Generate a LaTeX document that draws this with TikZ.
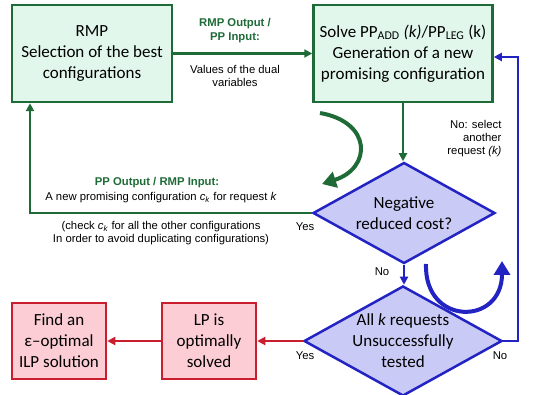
\documentclass[tikz,border=0pt]{standalone}
\usepackage{fontspec}
\setmainfont{Liberation Sans}
\newfontfamily\boxfont{Carlito}
\usetikzlibrary{arrows.meta, shapes.geometric}

\definecolor{gline}{HTML}{1E6B38}
\definecolor{gfill}{HTML}{E2F7EC}
\definecolor{bline}{HTML}{2323C4}
\definecolor{bfill}{HTML}{CACAF6}
\definecolor{rline}{HTML}{C81E2D}
\definecolor{rfill}{HTML}{FCCDD5}

\begin{document}
\begin{tikzpicture}[x=1pt, y=-1pt,
    box/.style={rectangle, draw, line width=2.5pt, align=center, inner sep=2pt,
        font=\boxfont\fontsize{17}{21}\selectfont},
    greenbox/.style={box, draw=gline, fill=gfill, minimum height=97pt},
    redbox/.style={box, draw=rline, fill=rfill, minimum width=94pt, minimum height=76pt},
    test/.style={diamond, aspect=1.8, draw=bline, fill=bfill, line width=2.5pt,
        inner sep=0pt, align=center, font=\boxfont\fontsize{17}{21}\selectfont},
    lab/.style={font=\fontsize{11.3}{13}\selectfont, align=center},
    glab/.style={lab, font=\fontsize{11.3}{14}\selectfont\bfseries, text=gline},
    tip/.style={-{Triangle[length=8pt,width=8pt]}},
    garrow/.style={tip, draw=gline, line width=2.5pt},
    barrow/.style={tip, draw=bline, line width=2.5pt},
    rarrow/.style={tip, draw=rline, line width=2.5pt},
    bigtip/.style={-{Triangle[length=14pt,width=16pt]}, line width=4pt}
]
    \useasboundingbox (0,0) rectangle (554,395);

    % boxes and tests
    \node[greenbox, minimum width=160pt] (rmp) at (92,53.5) {RMP\\Selection of the best\\configurations};
    \node[greenbox, minimum width=179pt] (pp) at (403,53.5)
        {Solve PP\textsubscript{ADD} \textit{(k)}/PP\textsubscript{LEG} (k)\\Generation of a new\\promising configuration};
    \node[test, minimum width=182pt, minimum height=101pt] (neg) at (404,213) {Negative\\reduced cost?};
    \node[test, minimum width=180pt, minimum height=102pt] (all) at (403,341)
        {All \textit{k} requests\\Unsuccessfully\\tested};
    \node[redbox] (lp) at (209,341) {LP is\\optimally\\solved};
    \node[redbox] (find) at (59,341) {Find an\\ε–optimal\\ILP solution};

    \coordinate (ret) at (30,213);
    \coordinate (back) at (518,57);

    % connectors
    \draw[garrow] (rmp) -- (pp);
    \draw[garrow] (pp.south) -- (pp.south |- neg.north);
    \draw[garrow] (neg.west) -- (ret) -- (ret |- rmp.south);
    \draw[barrow] (neg.south) -- (neg.south |- all.north);
    \draw[barrow] (all.east) -| (back) -- (pp.east |- back);
    \draw[rarrow] (all.west) -- (lp.east);
    \draw[rarrow] (lp.west) -- (find.east);

    % curved hints
    \coordinate (gfrom) at (320,113);
    \coordinate (gto) at (322,184);
    \draw[bigtip, draw=gline] (gfrom) .. controls (372,122) and (372,168) .. (gto);
    \coordinate (bfrom) at (426,264);
    \coordinate (bto) at (502,261);
    \draw[bigtip, draw=bline] (bfrom) .. controls (424,326) and (502,326) .. (bto);

    % labels
    \node[glab] (outpp) at (235,31) {RMP Output /\\PP Input:};
    \node[lab] (dual) at (235,76) {Values of the dual\\variables};
    \node[glab] (outrmp) at (157,183) {PP Output / RMP Input:};
    \node[lab] (newconf) at (161,198) {A new promising configuration \textit{c}\textsubscript{\textit{k}} for request \textit{k}};
    \node[lab] (check) at (161,233.5) {(check \textit{c}\textsubscript{\textit{k}} for all the other configurations\\In order to avoid duplicating configurations)};
    \node[lab] (yes1) at (305,227) {Yes};
    \node[lab, align=right, anchor=east] (select) at (505,139) {No: select\\another\\request \textit{(k)}};
    \node[lab] (no1) at (382,272) {No};
    \node[lab] (yes2) at (305,356) {Yes};
    \node[lab] (no2) at (500,356) {No};
\end{tikzpicture}
\end{document}
